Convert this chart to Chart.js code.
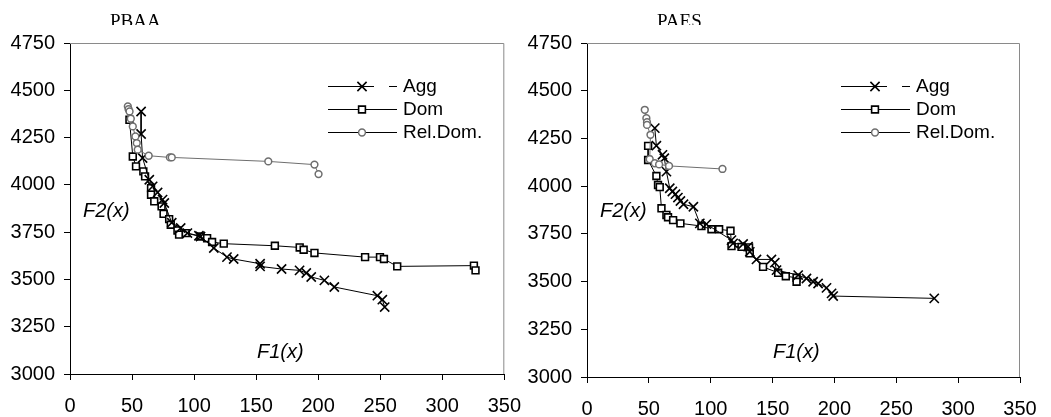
<!DOCTYPE html>
<html>
<head>
<meta charset="utf-8">
<script src="https://cdn.jsdelivr.net/npm/chart.js@4/dist/chart.umd.min.js"></script>
<style>
html,body{margin:0;padding:0;background:#fff;width:1051px;height:417px;overflow:hidden;}
canvas{position:absolute;top:0;}
#c1{left:0;}
#c2{left:520px;}
</style>
</head>
<body>
<canvas id="c1" width="535" height="417"></canvas>
<canvas id="c2" width="531" height="417"></canvas>
<script>
// ---- data ----
const seriesNames = ["Agg", "Dom", "Rel.Dom."];
const xTicks = [0, 50, 100, 150, 200, 250, 300, 350];
const yTicks = [3000, 3250, 3500, 3750, 4000, 4250, 4500, 4750];

// PBAA (left)
const pbaaAgg = [[57.3,4388],[57.3,4269],[58.5,4142],[63.9,4027],[66.6,3992],[70.6,3960],[74.6,3922],[76,3904],[82,3800],[89.2,3772],[94.6,3745],[103.9,3731],[105.2,3727],[115.9,3666],[126.5,3618],[131.9,3608],[153.2,3583],[153.2,3569],[170.5,3555],[185,3548],[190.4,3534],[194.4,3513],[205,3495],[213,3460],[247.7,3414],[251.7,3393],[253.6,3354]];
const pbaaDom = [[47.9,4344],[50.6,4150],[53.2,4098],[59.1,4071],[60.5,4045],[65.3,3983],[65.3,3948],[67.9,3913],[73.8,3886],[75.4,3847],[79.9,3819],[81.2,3789],[86.6,3759],[87.9,3737],[93.3,3745],[105.2,3727],[110.5,3718],[114.5,3698],[123.9,3689],[165.1,3678],[185.1,3669],[188.3,3657],[197,3640],[237.8,3618],[249.8,3618],[253,3608],[263.7,3569],[325.5,3573],[326.8,3548]];
const pbaaRel = [[46.6,4415],[47.2,4400],[48,4388],[49,4350],[50.6,4309],[52.7,4256],[53.8,4221],[54.6,4186],[63.4,4154],[80.5,4145],[82,4145],[159.8,4124],[197,4107],[200.3,4057]];

// PAES (right)
const paesAgg = [[54.8,4304],[56.1,4212],[61,4164],[62.5,4146],[64.2,4076],[66.9,3989],[69,3972],[71.5,3958],[73.5,3940],[75.5,3922],[78,3905],[86,3892],[91.2,3805],[96.5,3801],[116.8,3717],[118.1,3700],[126.2,3697],[130.2,3683],[131.6,3656],[137,3616],[149.1,3616],[151.8,3599],[153.2,3560],[170.7,3534],[177.4,3516],[182.8,3499],[186.8,3490],[193.6,3467],[197.7,3438],[199,3424],[280.7,3412]];
const paesDom = [[49.4,4211],[49.4,4137],[56.1,4053],[57.4,4006],[58.8,3995],[60.2,3884],[64.2,3849],[65.5,3837],[69.6,3822],[75.5,3805],[92.5,3791],[100.6,3774],[106.8,3774],[116,3766],[116.8,3686],[124.9,3682],[131,3679],[131.6,3648],[142.3,3577],[154.5,3546],[160.7,3528],[169.4,3520],[169.4,3499]];
const paesRel = [[46.7,4400],[48,4356],[48.5,4335],[48.5,4321],[51.3,4269],[50.7,4141],[54.8,4120],[58.3,4114],[66.3,4106],[109.5,4090]];

const toXY = arr => arr.map(p => ({x: p[0], y: p[1]}));

const GRAY = '#6e6e6e';

function makeDatasets(agg, dom, rel) {
  return [
    {label: seriesNames[0], data: toXY(agg), showLine: true, borderColor: '#000', borderWidth: 1,
     pointStyle: 'crossRot', pointRadius: 6.5, pointBorderWidth: 1.6, pointBorderColor: '#000', pointBackgroundColor: '#000', order: 1},
    {label: seriesNames[1], data: toXY(dom), showLine: true, borderColor: '#000', borderWidth: 1,
     pointStyle: 'rect', pointRadius: 4.8, pointBorderWidth: 1.6, pointBorderColor: '#000', pointBackgroundColor: '#fff', order: 2},
    {label: seriesNames[2], data: toXY(rel), showLine: true, borderColor: GRAY, borderWidth: 1,
     pointStyle: 'circle', pointRadius: 3.4, pointBorderWidth: 1.5, pointBorderColor: GRAY, pointBackgroundColor: '#fff', order: 0}
  ];
}

const decorPlugin = {
  id: 'decor',
  beforeDatasetsDraw(chart, args, o) {
    const a = chart.chartArea, ctx = chart.ctx;
    ctx.save();
    ctx.strokeStyle = '#8a8a8a';
    ctx.lineWidth = 1;
    ctx.beginPath();
    ctx.moveTo(a.left, a.top + 0.5);
    ctx.lineTo(a.right - 0.5, a.top + 0.5);
    ctx.lineTo(a.right - 0.5, a.bottom);
    ctx.stroke();
    ctx.restore();
  },
  afterDraw(chart, args, o) {
    const ctx = chart.ctx;
    ctx.save();
    // title (clipped at bottom like the reference)
    ctx.save();
    ctx.beginPath();
    ctx.rect(0, 0, chart.width, 25);
    ctx.clip();
    ctx.fillStyle = '#000';
    ctx.font = '19px "Liberation Serif", "Times New Roman", serif';
    ctx.textBaseline = 'alphabetic';
    ctx.textAlign = 'left';
    ctx.fillText(o.title, o.titleX, 27);
    ctx.restore();
    // axis titles inside plot
    ctx.fillStyle = '#000';
    ctx.font = 'italic 20px "Liberation Sans", Arial, sans-serif';
    ctx.textBaseline = 'middle';
    ctx.textAlign = 'left';
    ctx.fillText('F2(x)', o.f2x, 211);
    ctx.fillText('F1(x)', o.f1x, 352);
    // legend
    const rows = [86, 109, 132];
    const x1 = o.legX, x2 = o.legX + 69, mx = o.legX + 34;
    ctx.font = '19px "Liberation Sans", Arial, sans-serif';
    rows.forEach((y, i) => {
      const ds = chart.data.datasets[i];
      ctx.strokeStyle = '#000';
      ctx.lineWidth = 1;
      ctx.beginPath();
      if (i === 0) {
        ctx.moveTo(x1, y + 0.5); ctx.lineTo(x1 + 46, y + 0.5);
        ctx.moveTo(x1 + 61, y + 0.5); ctx.lineTo(x2, y + 0.5);
      } else {
        ctx.moveTo(x1, y + 0.5); ctx.lineTo(x2, y + 0.5);
      }
      ctx.stroke();
      ctx.fillStyle = ds.pointBackgroundColor;
      ctx.strokeStyle = ds.pointBorderColor;
      ctx.lineWidth = ds.pointBorderWidth;
      ctx.beginPath();
      if (ds.pointStyle === 'crossRot') {
        const r = ds.pointRadius * Math.SQRT1_2;
        ctx.moveTo(mx - r, y + 0.5 - r); ctx.lineTo(mx + r, y + 0.5 + r);
        ctx.moveTo(mx - r, y + 0.5 + r); ctx.lineTo(mx + r, y + 0.5 - r);
        ctx.stroke();
      } else if (ds.pointStyle === 'rect') {
        const s = ds.pointRadius * Math.SQRT1_2;
        ctx.rect(mx - s, y + 0.5 - s, 2 * s, 2 * s);
        ctx.fill(); ctx.stroke();
      } else {
        ctx.arc(mx, y + 0.5, ds.pointRadius, 0, Math.PI * 2);
        ctx.fill(); ctx.stroke();
      }
      ctx.fillStyle = '#000';
      ctx.textBaseline = 'middle';
      ctx.fillText(ds.label, x2 + 6, y + 1);
    });
    ctx.restore();
  }
};

function makeChart(id, title, agg, dom, rel, geo) {
  const tickFont = {family: '"Liberation Sans", Arial, sans-serif', size: 20};
  return new Chart(document.getElementById(id), {
    type: 'scatter',
    data: {datasets: makeDatasets(agg, dom, rel)},
    plugins: [decorPlugin],
    options: {
      responsive: false,
      devicePixelRatio: 1,
      animation: false,
      events: [],
      layout: {padding: {left: 0, right: geo.padRight, top: 43, bottom: 0}},
      elements: {line: {tension: 0}},
      plugins: {
        legend: {display: false},
        tooltip: {enabled: false},
        title: {display: false},
        decor: {title: title, titleX: geo.titleX, f2x: geo.f2x, f1x: geo.f1x, legX: geo.legX}
      },
      scales: {
        x: {
          type: 'linear', min: xTicks[0], max: xTicks[xTicks.length - 1],
          afterBuildTicks: s => { s.ticks = xTicks.map(v => ({value: v})); },
          afterFit: s => { s.height = geo.xH; },
          ticks: {font: tickFont, color: '#000', padding: 14, maxRotation: 0, autoSkip: false, callback: v => String(v)},
          grid: {display: true, drawOnChartArea: false, drawTicks: true, tickLength: 6, color: '#000', lineWidth: 1},
          border: {display: true, color: '#000', width: 1}
        },
        y: {
          type: 'linear', min: yTicks[0], max: yTicks[yTicks.length - 1],
          afterBuildTicks: s => { s.ticks = yTicks.map(v => ({value: v})); },
          afterFit: s => { s.width = geo.yW; },
          ticks: {font: tickFont, color: '#000', padding: 9, autoSkip: false, callback: v => String(v)},
          grid: {display: true, drawOnChartArea: false, drawTicks: true, tickLength: 6, color: '#000', lineWidth: 1},
          border: {display: true, color: '#000', width: 1}
        }
      }
    }
  });
}

makeChart('c1', 'PBAA', pbaaAgg, pbaaDom, pbaaRel,
  {padRight: 27, yW: 70, xH: 43, titleX: 110, f2x: 83, f1x: 257, legX: 328});
makeChart('c2', 'PAES', paesAgg, paesDom, paesRel,
  {padRight: 31, yW: 67, xH: 40, titleX: 137, f2x: 80, f1x: 253, legX: 321});
</script>
</body>
</html>
